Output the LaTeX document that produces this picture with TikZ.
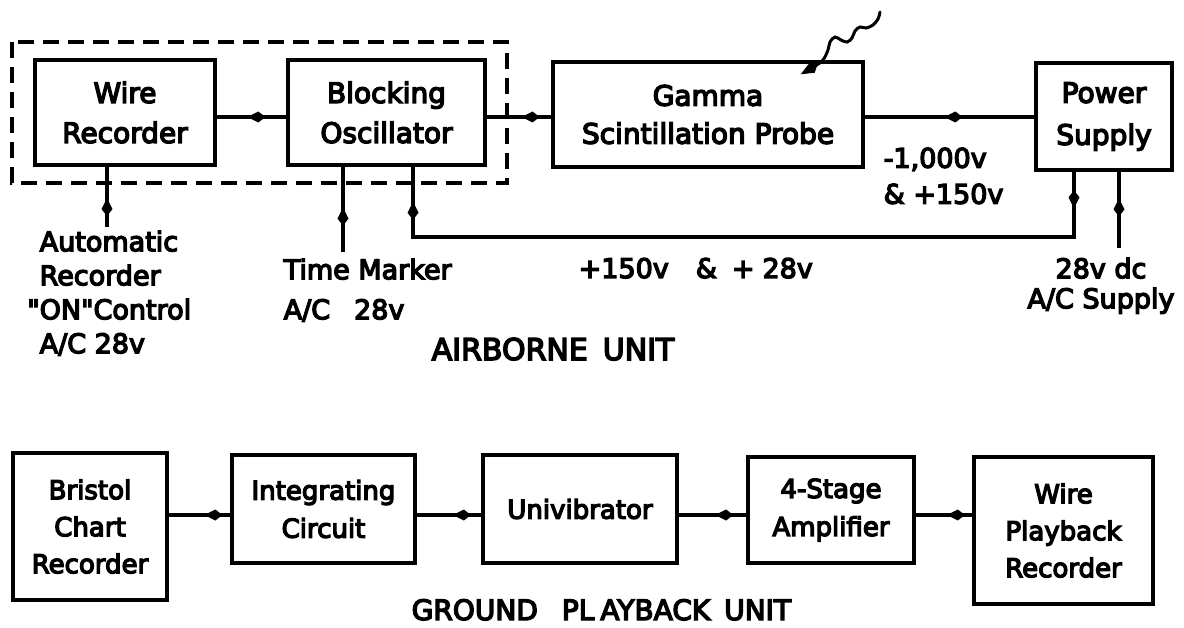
\documentclass[tikz,border=0pt]{standalone}
\usepackage{fontspec}
\setmainfont{DejaVu Sans}[FakeBold=5]
\font\qf="DejaVu Sans:embolden=5" at 27pt
\usetikzlibrary{arrows.meta,decorations.markings,calc}
\begin{document}
\begin{tikzpicture}[x=1pt,y=-1pt,line width=3.4pt,
  box/.style={draw,line width=3.4pt,inner sep=0pt,align=center,font=\fontsize{28}{40}\selectfont},
  gbox/.style={box,font=\fontsize{26}{38}\selectfont},
  lbl/.style={inner sep=0pt,font=\fontsize{27}{34}\selectfont},
  tip/.tip={Kite[length=18pt,width=11pt,inset=7pt]},
  ma/.style={postaction={decorate},decoration={markings,mark=at position #1 with {\arrow{tip}}}},
  matwo/.style 2 args={postaction={decorate},decoration={markings,
     mark=at position #1 with {\arrow{tip}},mark=at position #2 with {\arrow{tip}}}}]
\useasboundingbox (0,0) rectangle (1184,628);
% airborne unit
\draw[line width=3.2pt,dash pattern=on 16pt off 9pt] (12,42) rectangle (507,183);
\node[box,minimum width=180pt,minimum height=105pt] (wr) at (125,112.5) {Wire\\Recorder};
\node[box,minimum width=197pt,minimum height=105pt] (bo) at (386.5,112.5) {Blocking\\Oscillator};
\node[box,minimum width=310pt,minimum height=105pt,font=\fontsize{28}{38}\selectfont] (gsp) at (708,114.5) {Gamma\\Scintillation Probe};
\node[box,minimum width=136pt,minimum height=107pt,font=\fontsize{28}{42}\selectfont] (ps) at (1104,116.5) {Power\\Supply};
\coordinate (sig) at (0,117);
\draw[ma=0.56] (bo.west |- sig) -- (wr.east |- sig);
\draw[ma=0.46] (gsp.west |- sig) -- (bo.east |- sig);
\draw[ma=0.53] (ps.west |- sig) -- (gsp.east |- sig);
% radiation
\draw[line width=3pt,line cap=round,-{Kite[length=19pt,width=11pt,inset=6pt]}] plot[smooth,tension=0.6] coordinates
  {(880,12) (878,19) (873,25) (866,28) (860,27) (855,31) (852,38) (847,42) (841,40) (835,37) (830,42) (828,50) (823,60) (815,66) ($(gsp.north east)+(-64,14)$)};
% inputs
\coordinate (autoin) at (107,227);
\coordinate (tmin) at (343,252);
\coordinate (psout) at (1074,237);
\coordinate (retin) at (413,237);
\coordinate (dcin) at (1119,248);
\draw[ma=0.48] (autoin) -- (wr.south -| autoin);
\draw[ma=0.52] (tmin) -- (bo.south -| tmin);
\draw[matwo={0.046}{0.956}] (ps.south -| psout) -- (psout) -- (retin) -- (bo.south -| retin);
\draw[ma=0.65] (dcin) -- (ps.south -| dcin);
% labels
\node[lbl,anchor=north west,align=left] (lauto) at (38,229) {Automatic\\Recorder\\\llap{\qf"}ON{\qf"}Control\\A/C 28v};
\node[lbl,anchor=north west,align=left,font=\fontsize{27}{40}\selectfont] (ltm) at (282,257) {Time Marker\\A/C\hspace{24pt}28v};
\node[lbl,anchor=north,align=center,font=\fontsize{27}{30}\selectfont] (ldc) at (1101,256) {28v dc\\A/C Supply};
\node[lbl,anchor=north west,align=left,font=\fontsize{27}{36}\selectfont] (lkv) at (882,146) {-1,000v\\\& +150v};
\node[lbl,anchor=base west] (lpl) at (577,278) {+150v\hspace{27pt}\&\hspace{15pt}+\hspace{8pt}28v};
\node[inner sep=0pt,anchor=base west,font=\fontsize{30}{36}\selectfont] (lair) at (430,360) {AIRBORNE\hspace{15pt}UNIT};
% ground playback unit
\node[gbox,minimum width=154pt,minimum height=147pt,font=\fontsize{26}{37}\selectfont] (bcr) at (90,526.5) {Bristol\\Chart\\Recorder};
\node[gbox,minimum width=183pt,minimum height=108pt] (ic) at (323.5,509) {Integrating\\Circuit};
\node[gbox,minimum width=194pt,minimum height=108pt] (uni) at (580,509) {Univibrator};
\node[gbox,minimum width=166pt,minimum height=106pt] (amp) at (831,510) {4-Stage\\Amplifier};
\node[gbox,minimum width=179pt,minimum height=147pt,font=\fontsize{26}{37}\selectfont] (wpr) at (1063.5,530.5) {Wire\\Playback\\Recorder};
\coordinate (gsig) at (0,515);
\draw[ma=0.42] (ic.west |- gsig) -- (bcr.east |- gsig);
\draw[ma=0.44] (uni.west |- gsig) -- (ic.east |- gsig);
\draw[ma=0.46] (amp.west |- gsig) -- (uni.east |- gsig);
\draw[ma=0.45] (wpr.west |- gsig) -- (amp.east |- gsig);
\node[inner sep=0pt,anchor=base west,font=\fontsize{28}{34}\selectfont] (lgr) at (410,620) {GROUND\hspace{24pt}PL\hspace{6pt}AYBACK\hspace{14pt}UNIT};
\end{tikzpicture}
\end{document}
